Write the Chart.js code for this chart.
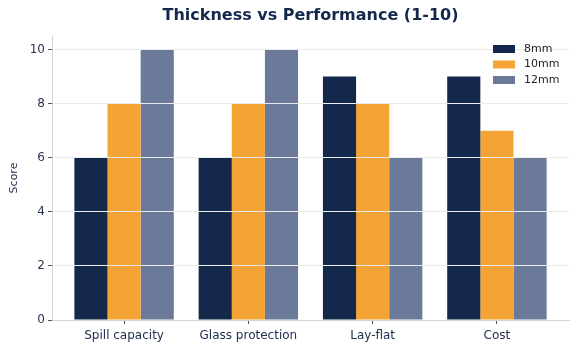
<!DOCTYPE html>
<html>
<head>
<meta charset="utf-8">
<script src="https://cdn.jsdelivr.net/npm/chart.js@4/dist/chart.umd.min.js"></script>
<style>
  html, body { margin: 0; padding: 0; background: #ffffff; }
  #wrap { width: 577px; height: 350px; }
</style>
</head>
<body>
<div id="wrap"><canvas id="c" width="577" height="350"></canvas></div>
<script>
const categories = ['Spill capacity', 'Glass protection', 'Lay-flat', 'Cost'];
const seriesNames = ['8mm', '10mm', '12mm'];
const series8mm = [6, 6, 9, 9];
const series10mm = [8, 8, 8, 7];
const series12mm = [10, 10, 6, 6];
const yTickValues = [0, 2, 4, 6, 8, 10];
const seriesColors = ['#14284b', '#f4a435', '#6b7a99'];
const chartTitle = 'Thickness vs Performance (1-10)';

const FONT = 'DejaVu Sans';
const allSeries = [series8mm, series10mm, series12mm];

const decorPlugin = {
  id: 'decor',
  afterDraw(chart) {
    const ctx = chart.ctx;
    const area = chart.chartArea;
    ctx.save();
    // title centred over the plot area
    ctx.font = 'bold 16px "' + FONT + '"';
    ctx.fillStyle = '#14284b';
    ctx.textAlign = 'center';
    ctx.textBaseline = 'middle';
    ctx.fillText(chartTitle, (area.left + area.right) / 2, 16);
    // legend inside the plot, top right
    ctx.font = '11px "' + FONT + '"';
    ctx.textAlign = 'left';
    chart.data.datasets.forEach((ds, i) => {
      const cy = area.top + 13 + i * 15.5;
      const bx = area.right - 76;
      ctx.fillStyle = ds.backgroundColor;
      ctx.fillRect(bx, cy - 4, 22, 8);
      ctx.fillStyle = '#222222';
      ctx.fillText(ds.label, bx + 31, cy);
    });
    ctx.restore();
  }
};

new Chart(document.getElementById('c'), {
  type: 'bar',
  data: {
    datasets: seriesNames.map((name, s) => ({
      label: name,
      data: allSeries[s].map((v, i) => ({ x: i, y: v })),
      backgroundColor: seriesColors[s],
      borderWidth: 0,
      categoryPercentage: 0.8,
      barPercentage: 1.0
    }))
  },
  options: {
    responsive: false,
    animation: false,
    devicePixelRatio: 1,
    layout: { padding: { left: 0, right: 8, top: 36, bottom: 0 } },
    plugins: {
      legend: { display: false },
      tooltip: { enabled: false },
      title: { display: false }
    },
    scales: {
      x: {
        type: 'linear',
        offset: false,
        min: -0.58,
        max: 3.58,
        afterBuildTicks: (axis) => { axis.ticks = categories.map((c, i) => ({ value: i })); },
        afterFit: (axis) => { axis.height = 30; },
        ticks: {
          callback: (v) => categories[v],
          color: '#22304f',
          font: { family: FONT, size: 12 },
          padding: 5,
          maxRotation: 0,
          autoSkip: false
        },
        grid: {
          display: true,
          offset: false,
          drawOnChartArea: false,
          drawTicks: true,
          tickLength: 4,
          tickColor: '#555555',
          z: 1
        },
        border: { display: true, color: '#d4d4d4', width: 1, z: 2 }
      },
      y: {
        min: 0,
        max: 10.5,
        afterBuildTicks: (axis) => { axis.ticks = yTickValues.map(v => ({ value: v })); },
        afterFit: (axis) => { axis.width = 52; },
        title: {
          display: true,
          text: 'Score',
          color: '#22304f',
          font: { family: FONT, size: 11 },
          padding: { top: 8, bottom: 4 }
        },
        ticks: {
          color: '#2b3550',
          font: { family: FONT, size: 12 },
          padding: 3
        },
        grid: {
          display: true,
          drawOnChartArea: true,
          drawTicks: true,
          tickLength: 4,
          tickColor: '#555555',
          color: (ctx) => (ctx.tick && ctx.tick.value === 0) ? 'rgba(0,0,0,0)' : '#ececec',
          lineWidth: 1,
          z: 1
        },
        border: { display: true, color: '#d4d4d4', width: 1, z: 2 }
      }
    }
  },
  plugins: [decorPlugin]
});
</script>
</body>
</html>
